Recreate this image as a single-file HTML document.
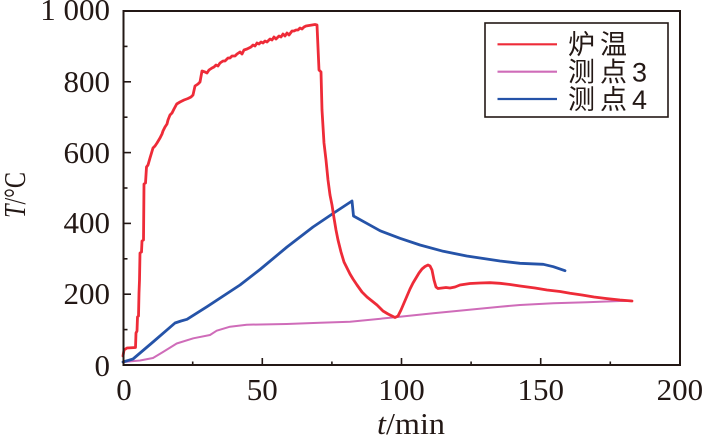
<!DOCTYPE html>
<html>
<head>
<meta charset="utf-8">
<style>
html,body{margin:0;padding:0;background:#fff;}
svg{display:block;}
</style>
</head>
<body>
<svg width="709" height="437" viewBox="0 0 709 437" xmlns="http://www.w3.org/2000/svg">
<rect width="709" height="437" fill="#fff"/>
<g fill="none" stroke-linejoin="round" stroke-linecap="round">
<polyline stroke="#cf6cb9" stroke-width="2" points="123,362 140,360.5 153,358 163,352 176.7,343.5 193.3,338.3 210,335 216.7,330.7 230,326.7 246.7,324.7 286.7,324 320,322.7 350,321.7 395,317.3 433.3,313.3 466.7,310 500,306.7 520,305 553.3,303.3 586.7,302.3 620,301 631.7,301"/>
<polyline stroke="#2553a8" stroke-width="2.8" points="123,362 133,359 153,342 175,323 181,321 187,319.3 207,306.7 240,285 260,269.5 287,247 313,227 333,213.5 352,201 353.5,216 366.7,223.3 380,230.7 400,238.3 420,245 443.3,251.3 466.7,256 500,261 520,263.3 543.3,264.3 553.3,266.7 565,270.7"/>
<polyline stroke="#ee2b38" stroke-width="2.8" points="123,356 124,350 127,348 135.5,347.5 136,333 137,331 137.5,317 138.5,316 139,293 139.5,280 140,253 141.5,252 142,241 143.5,240 144,184 145.5,183 146.5,167 148,165 150,158 151.5,153 153,148 155,146 157,143 160,138 162,134 163,131 165,127 167,124 168,120 170,115 172,113 174,109 176.7,104 180,102 184,100 188,98.5 191,97 193,95 195,86 198,84 200,82 202,71 205,72 207,73 209,70 212,68 214,67 216,65 218,66 220,63 223,61 225,61 228,58 230,58 232,56 235,56 237,54 240,52 242,54 244,50 247,49 249,48 251,47 253,45 255,46 257,43 259,44 261,42 263,43 265,41 267,42 270,39 272,40 274,37 276,39 279,36 281,37 283,34 285,36 287,33 289,35 292,31 294,31 296,30 298,30 300,28 302,29 304,27 306,26 309,25.5 312,25 315,24.5 317,25 319,70 321,72 322,110 324,143 326,160 328,180 330,195 332,205 334,218 336,230 338,240 341,252 344,262 347,268 350,274 353,279 357,285 362,292 367,297 372,301 377,305 383,311 388,314 392,316 395,317.5 398,316 401,310 404,303 407,296 410,289 413,283 416,278 419,273 422,269 425,266.5 428,265 430,266 432,270 434,280 436,287 438,288.5 442,288 446,287.5 450,288 455,287 460,285 470,283.5 480,283 490,282.7 500,283.3 510,284.5 520,286 535,288 547,290 560,291.5 570,293.3 582,295 594,297 606,298.5 620,300 632,301"/>
</g>
<!-- frame -->
<rect x="123.5" y="11" width="556.5" height="354" fill="none" stroke="#231815" stroke-width="2"/>
<!-- y ticks -->
<g stroke="#231815" stroke-width="1.6">
<line x1="123" y1="294.2" x2="131" y2="294.2"/>
<line x1="123" y1="223.4" x2="131" y2="223.4"/>
<line x1="123" y1="152.6" x2="131" y2="152.6"/>
<line x1="123" y1="81.8" x2="131" y2="81.8"/>
<line x1="123" y1="329.6" x2="127.5" y2="329.6"/>
<line x1="123" y1="258.8" x2="127.5" y2="258.8"/>
<line x1="123" y1="188" x2="127.5" y2="188"/>
<line x1="123" y1="117.2" x2="127.5" y2="117.2"/>
<line x1="123" y1="46.4" x2="127.5" y2="46.4"/>
<line x1="262.3" y1="365" x2="262.3" y2="358"/>
<line x1="401.5" y1="365" x2="401.5" y2="358"/>
<line x1="540.7" y1="365" x2="540.7" y2="358"/>
<line x1="192.7" y1="365" x2="192.7" y2="361.5"/>
<line x1="331.9" y1="365" x2="331.9" y2="361.5"/>
<line x1="471.1" y1="365" x2="471.1" y2="361.5"/>
<line x1="610.3" y1="365" x2="610.3" y2="361.5"/>
</g>
<!-- tick labels -->
<g font-family="'Liberation Serif', serif" font-size="31" fill="#231815">
<g text-anchor="end">
<text x="110" y="20">1 000</text>
<text x="110" y="92">800</text>
<text x="110" y="163">600</text>
<text x="110" y="233">400</text>
<text x="110" y="304">200</text>
<text x="110" y="376">0</text>
</g>
<g text-anchor="middle">
<text x="124" y="400">0</text>
<text x="262.3" y="400">50</text>
<text x="401.5" y="400">100</text>
<text x="540.7" y="400">150</text>
<text x="679.9" y="400">200</text>
</g>
<text x="377" y="434" textLength="68" lengthAdjust="spacingAndGlyphs"><tspan font-style="italic">t</tspan>/min</text>
<text transform="translate(25,218) rotate(-90)" textLength="46" lengthAdjust="spacingAndGlyphs"><tspan font-style="italic">T</tspan>/°C</text>
</g>
<!-- legend -->
<rect x="485" y="23" width="183" height="94" fill="#fff" stroke="#231815" stroke-width="1.6"/>
<g stroke-width="2.2">
<line x1="497.5" y1="44.3" x2="557" y2="44.3" stroke="#ee2b38"/>
<line x1="497.5" y1="71.7" x2="557" y2="71.7" stroke="#cf6cb9"/>
<line x1="497.5" y1="99" x2="557" y2="99" stroke="#2553a8"/>
</g>
<g font-family="'Liberation Sans', 'Noto Sans CJK SC', sans-serif" font-size="27" fill="#231815" letter-spacing="5">
<text x="568" y="54">炉温</text>
<text x="568" y="81.5">测点3</text>
<text x="568" y="109">测点4</text>
</g>
</svg>
</body>
</html>
